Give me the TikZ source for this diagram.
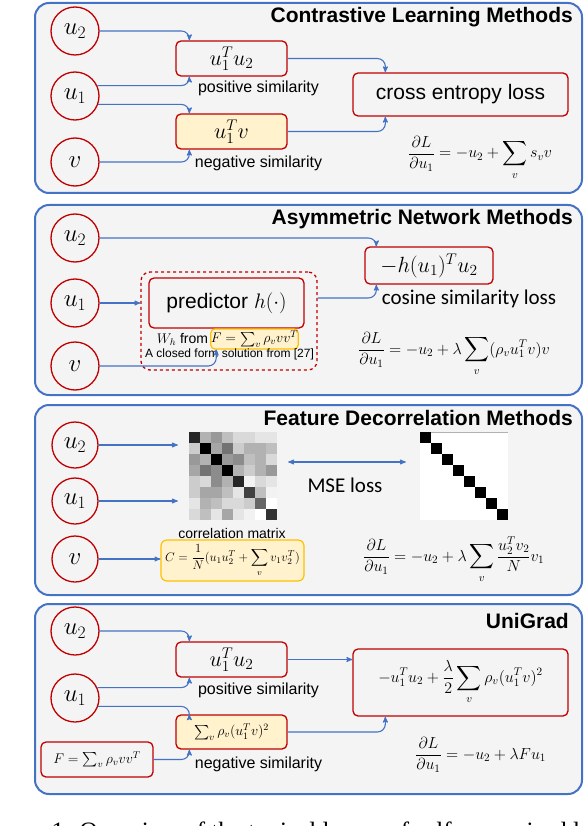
\RequirePackage{fix-cm}
\documentclass[tikz,border=0pt]{standalone}
\usepackage{amsmath}
\usepackage{exscale}
\usepackage{fontspec}
\setmainfont{Liberation Sans}
\newfontfamily\calibrifont{Carlito}
\newfontfamily\captionfont{Liberation Serif}
\usepackage{tikz}
\usetikzlibrary{positioning,arrows}
\definecolor{panelblue}{RGB}{68,114,196}
\definecolor{panelbg}  {RGB}{244,244,244}
\definecolor{boxred}   {RGB}{192,0,0}
\definecolor{softyellow}{RGB}{255,242,204}
\definecolor{gold}     {RGB}{255,192,0}

\begin{document}
\begin{tikzpicture}[
    x=1pt, y=-1pt, >=stealth',
    panel/.style={draw=panelblue,line width=2pt,fill=panelbg,rounded corners=14pt},
    heading/.style={anchor=base east,inner sep=0pt,font={\fontsize{21}{22}\selectfont\bfseries}},
    vec/.style={circle,draw=boxred,line width=1.3pt,minimum size=48pt,inner sep=0pt,font={\fontsize{25}{27}\selectfont}},
    sim/.style={rectangle,rounded corners=5pt,draw=boxred,line width=1.3pt,fill=panelbg,minimum width=111pt,minimum height=35pt,inner sep=0pt,font={\fontsize{22}{24}\selectfont}},
    negsim/.style={sim,fill=softyellow},
    loss/.style={sim,font={\fontsize{21}{24}\selectfont}},
    formbox/.style={rectangle,rounded corners=4pt,draw=gold,line width=1.2pt,fill=softyellow,inner sep=0pt},
    note/.style={inner sep=0pt,font={\fontsize{16}{18}\selectfont}},
    grad/.style={anchor=base west,inner sep=0pt,font={\fontsize{16}{18}\selectfont}},
    flow/.style={->,draw=panelblue,line width=1.1pt,rounded corners=8pt},
]
\useasboundingbox (0,0) rectangle (588,826);

    % Contrastive learning
    \draw[panel] (35,3) rectangle (582,193);
    \node[heading] (t1) at (573,23) {Contrastive Learning Methods};
    \node[vec] (a2) at (75,31)  {$u_2$};
    \node[vec] (a1) at (75,96)  {$u_1$};
    \node[vec] (av) at (75,162) {$v$};
    \node[sim]    (apos) at (231.5,58.5)  {$u_1^T u_2$};
    \node[negsim] (aneg) at (231.5,131.5) {$u_1^T v$};
    \node[note] (aposl) at (258.5,88)  {positive similarity};
    \node[note] (anegl) at (258.5,163) {negative similarity};
    \node[loss,minimum width=215pt,minimum height=43pt] (ace) at (460.5,94.5) {cross entropy loss};
    \node[grad] (agrad) at (408,158) {$\displaystyle\frac{\partial L}{\partial u_1}=-u_2+\sum_v s_v v$};

    \draw[flow] (a2.east)  -| ([xshift=14pt]apos.north west);
    \draw[flow] (a1.25)    -| ([xshift=14pt]apos.south west);
    \draw[flow] (a1.-20)   -| ([xshift=14pt]aneg.north west);
    \draw[flow] (av.east)  -| ([xshift=14pt]aneg.south west);
    \draw[flow] (apos.east) -| ([xshift=33pt]ace.north west);
    \draw[flow] (aneg.east) -| ([xshift=33pt]ace.south west);

    % Asymmetric network
    \draw[panel] (35,205) rectangle (582,395);
    \node[heading] (t2) at (573,225) {Asymmetric Network Methods};
    \node[vec] (b2) at (75,238) {$u_2$};
    \node[vec] (b1) at (75,303) {$u_1$};
    \node[vec] (bv) at (75,366) {$v$};
    \node[draw=boxred,dashed,line width=1.3pt,rounded corners=9pt,minimum width=176pt,minimum height=98pt] (bwrap) at (229,321) {};
    \node[loss,minimum width=155pt,minimum height=50pt] (bpred) at (226.5,303) {predictor $h(\cdot)$};
    \node[formbox,minimum width=85pt,minimum height=20pt,font={\fontsize{14}{16}\selectfont}] (bf) at (254.5,339) {$F=\sum_v\rho_v vv^T$};
    \node[note,left=2pt of bf,font={\fontsize{14}{16}\selectfont}] (bwh) {$W_h$ from};
    \node[note,font={\fontsize{12}{14}\selectfont}] (bclosed) at (229.5,354) {A closed form solution from [27]};
    \node[sim,minimum width=128pt,minimum height=37pt] (bneg) at (429,265.5) {$-h(u_1)^T u_2$};
    \node[note,font={\fontsize{21}{24}\selectfont\calibrifont}] (bcos) at (469,299) {cosine similarity loss};
    \node[grad] (bgrad) at (358,354) {$\displaystyle\frac{\partial L}{\partial u_1}=-u_2+\lambda\sum_v(\rho_v u_1^T v)v$};

    \draw[flow] (b2.east) -| ([xshift=12pt]bneg.north west);
    \draw[flow] (b1.east) -- (b1.east -| bwrap.west);
    \draw[flow] (bv.east) -| ([xshift=6pt]bf.south west);
    \draw[flow] ([yshift=23pt]bwrap.east) -| ([xshift=12pt]bneg.south west);

    % Feature decorrelation
    \draw[panel] (35,405) rectangle (582,595);
    \node[heading] (t3) at (573,425) {Feature Decorrelation Methods};
    \node[vec,minimum size=46pt] (c2) at (75,445) {$u_2$};
    \node[vec,minimum size=46pt] (c1) at (75,501) {$u_1$};
    \node[vec,minimum size=46pt] (cv) at (75,559) {$v$};
    \node[minimum size=88pt,inner sep=0pt] (corr) at (233,476) {};
    \foreach \row [count=\i] in {{85,30,40,25,15,15,10,10},{20,100,35,55,20,30,30,25},
        {40,30,100,40,45,25,30,15},{35,55,45,100,30,20,30,40},{20,15,45,30,85,5,15,10},
        {20,35,35,25,10,75,25,5},{10,30,25,15,15,20,60,0},{15,25,10,35,10,5,0,80}}
      \foreach \val [count=\j] in \row
        \fill[black!\val] (178+11*\j,421+11*\i) rectangle ++(11,11);
    \node[fill=white,minimum size=88pt,inner sep=0pt] (ident) at (464,476) {};
    \draw[gray!60,line width=0.6pt] (ident.north west) -- (ident.north east);
    \foreach \k in {1,...,8}
        \fill[black] (409+11*\k,421+11*\k) rectangle ++(11,11);
    \node[note,font={\fontsize{21}{24}\selectfont\calibrifont}] (cmse) at (345,485) {MSE loss};
    \node[note,font={\fontsize{14}{16}\selectfont}] (ccorl) at (232,533) {correlation matrix};
    \node[formbox,minimum width=143pt,minimum height=41pt,rounded corners=6pt,font={\fontsize{12.5}{14}\selectfont}] (cc) at (232.5,560.5)
        {$\displaystyle C=\frac{1}{N}(u_1u_2^T+\sum_v v_1v_2^T)$};
    \node[grad] (cgrad) at (363,561) {$\displaystyle\frac{\partial L}{\partial u_1}=-u_2+\lambda\sum_v\frac{u_2^Tv_2}{N}v_1$};

    \draw[flow] (c2.east) -- ([xshift=-11pt]corr.west |- c2.east);
    \draw[flow] (c1.east) -- ([xshift=-11pt]corr.west |- c1.east);
    \draw[flow] (cv.east) -- (cv.east -| cc.west);
    \draw[flow,<->] ([xshift=11pt,yshift=14pt]corr.east) -- ([xshift=-14pt,yshift=14pt]ident.west);

    % UniGrad
    \draw[panel] (35,604) rectangle (582,794);
    \node[heading] (t4) at (569,628) {UniGrad};
    \node[vec] (d2) at (75,631) {$u_2$};
    \node[vec] (d1) at (75,698) {$u_1$};
    \node[sim]    (dpos) at (231.5,659.5) {$u_1^T u_2$};
    \node[negsim,minimum height=34pt,font={\fontsize{14}{16}\selectfont}] (dneg) at (231.5,732) {$\sum_v\rho_v(u_1^Tv)^2$};
    \node[note] (dposl) at (258.5,690) {positive similarity};
    \node[note] (dnegl) at (258.5,764) {negative similarity};
    \node[sim,minimum width=112pt,font={\fontsize{14}{16}\selectfont}] (df) at (97,759.5) {$F=\sum_v\rho_v vv^T$};
    \node[sim,minimum width=215pt,minimum height=67pt,font={\fontsize{16}{18}\selectfont}] (dloss) at (460.5,682.5)
        {$\displaystyle -u_1^Tu_2+\frac{\lambda}{2}\sum_v\rho_v(u_1^Tv)^2$};
    \node[grad] (dgrad) at (415,759) {$\displaystyle\frac{\partial L}{\partial u_1}=-u_2+\lambda F u_1$};

    \draw[flow] (d2.east)  -| ([xshift=14pt]dpos.north west);
    \draw[flow] (d1.25)    -| ([xshift=14pt]dpos.south west);
    \draw[flow] (d1.-20)   -| ([xshift=14pt]dneg.north west);
    \draw[flow] (df.east)  -| ([xshift=14pt]dneg.south west);
    \draw[flow] (dpos.east) -- (dpos.east -| dloss.west);
    \draw[flow] (dneg.east) -| ([xshift=33pt]dloss.south west);

    % caption, cut by the page
    \node[anchor=base west,inner sep=0pt,font={\fontsize{25}{28}\selectfont\captionfont}] (cap) at (-20,839)
        {Figure 1: Overview of the typical losses of self-supervised learning};

\end{tikzpicture}
\end{document}
